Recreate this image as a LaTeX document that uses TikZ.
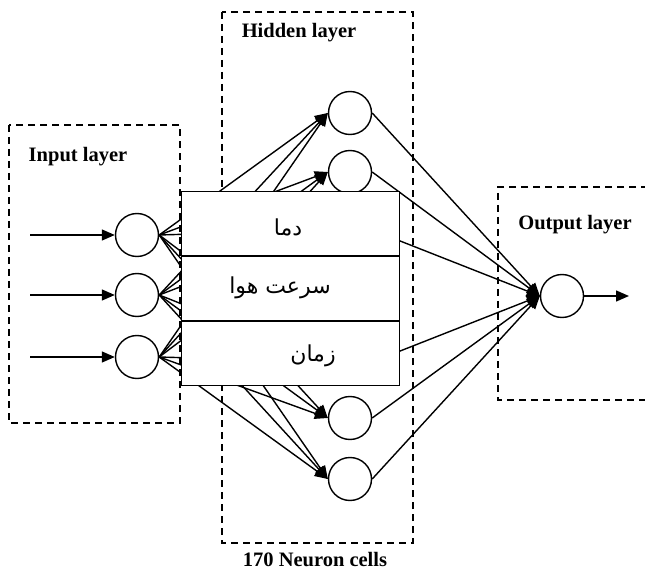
\documentclass[tikz,border=0pt]{standalone}
\usepackage{fontspec}
\setmainfont{Liberation Serif}
\newfontfamily\arabicfont[Script=Arabic]{DejaVu Sans}
\TeXXeTstate=1
\usetikzlibrary{arrows.meta}
\begin{document}
\begin{tikzpicture}[x=1pt,y=-1pt,
  neuron/.style={circle,draw,line width=1.4pt,minimum size=43pt,inner sep=0pt},
  layerbox/.style={draw,dashed,dash pattern=on 7pt off 5pt,line width=1.3pt},
  conn/.style={line width=1.4pt,-{Triangle[length=13pt,width=11pt]}},
  title/.style={font=\fontsize{20.5}{23}\selectfont\bfseries},
  rowbox/.style={draw,fill=white,line width=1.5pt,minimum width=218pt,minimum height=64.5pt,inner sep=0pt},
  ar/.style={font=\fontsize{22}{26}\arabicfont}]
\useasboundingbox (0,0) rectangle (645,577);
% layer boxes
\draw[layerbox] (9,125) rectangle (180,423);
\draw[layerbox] (222,12) rectangle (413,543);
\draw[layerbox] (660,187) -- (498,187) -- (498,400) -- (660,400);
% neurons
\node[neuron] (i1) at (137,235) {};
\node[neuron] (i2) at (137,295) {};
\node[neuron] (i3) at (137,357) {};
\node[neuron] (h1) at (350,113) {};
\node[neuron] (h2) at (350,172) {};
\node[neuron] (h3) at (350,230) {};
\node[neuron] (h4) at (350,362) {};
\node[neuron] (h5) at (350,418) {};
\node[neuron] (h6) at (350,479) {};
\node[neuron] (o) at (562,296) {};
% inputs
\coordinate (x1) at (30,235);
\coordinate (x2) at (30,295);
\coordinate (x3) at (30,357);
\coordinate (y) at (629,296);
\foreach \k in {1,2,3} \draw[conn] (x\k) -- (i\k.west);
\draw[conn] (o.east) -- (y);
% connections
\foreach \a in {1,2,3}
  \foreach \b in {1,...,6}
    \draw[conn] (i\a.east) -- (h\b.west);
\foreach \b in {1,...,6}
  \draw[conn] (h\b.east) -- (o.west);
% table
\node[rowbox] (r1) at (290.5,224) {};
\node[rowbox] (r2) at (290.5,288.5) {};
\node[rowbox] (r3) at (290.5,353) {};
\node[ar] (t1) at (288,227) {\beginR دما\endR};
\node[ar] (t2) at (280,288) {\beginR سرعت هوا\endR};
\node[ar] (t3) at (313,356) {\beginR زمان\endR};
% titles
\node[title] (l1) at (78,157) {Input layer};
\node[title] (l2) at (299,33) {Hidden layer};
\node[title] (l3) at (575,225) {Output layer};
\node[title] (l4) at (315,560) {170 Neuron cells};
\end{tikzpicture}
\end{document}
